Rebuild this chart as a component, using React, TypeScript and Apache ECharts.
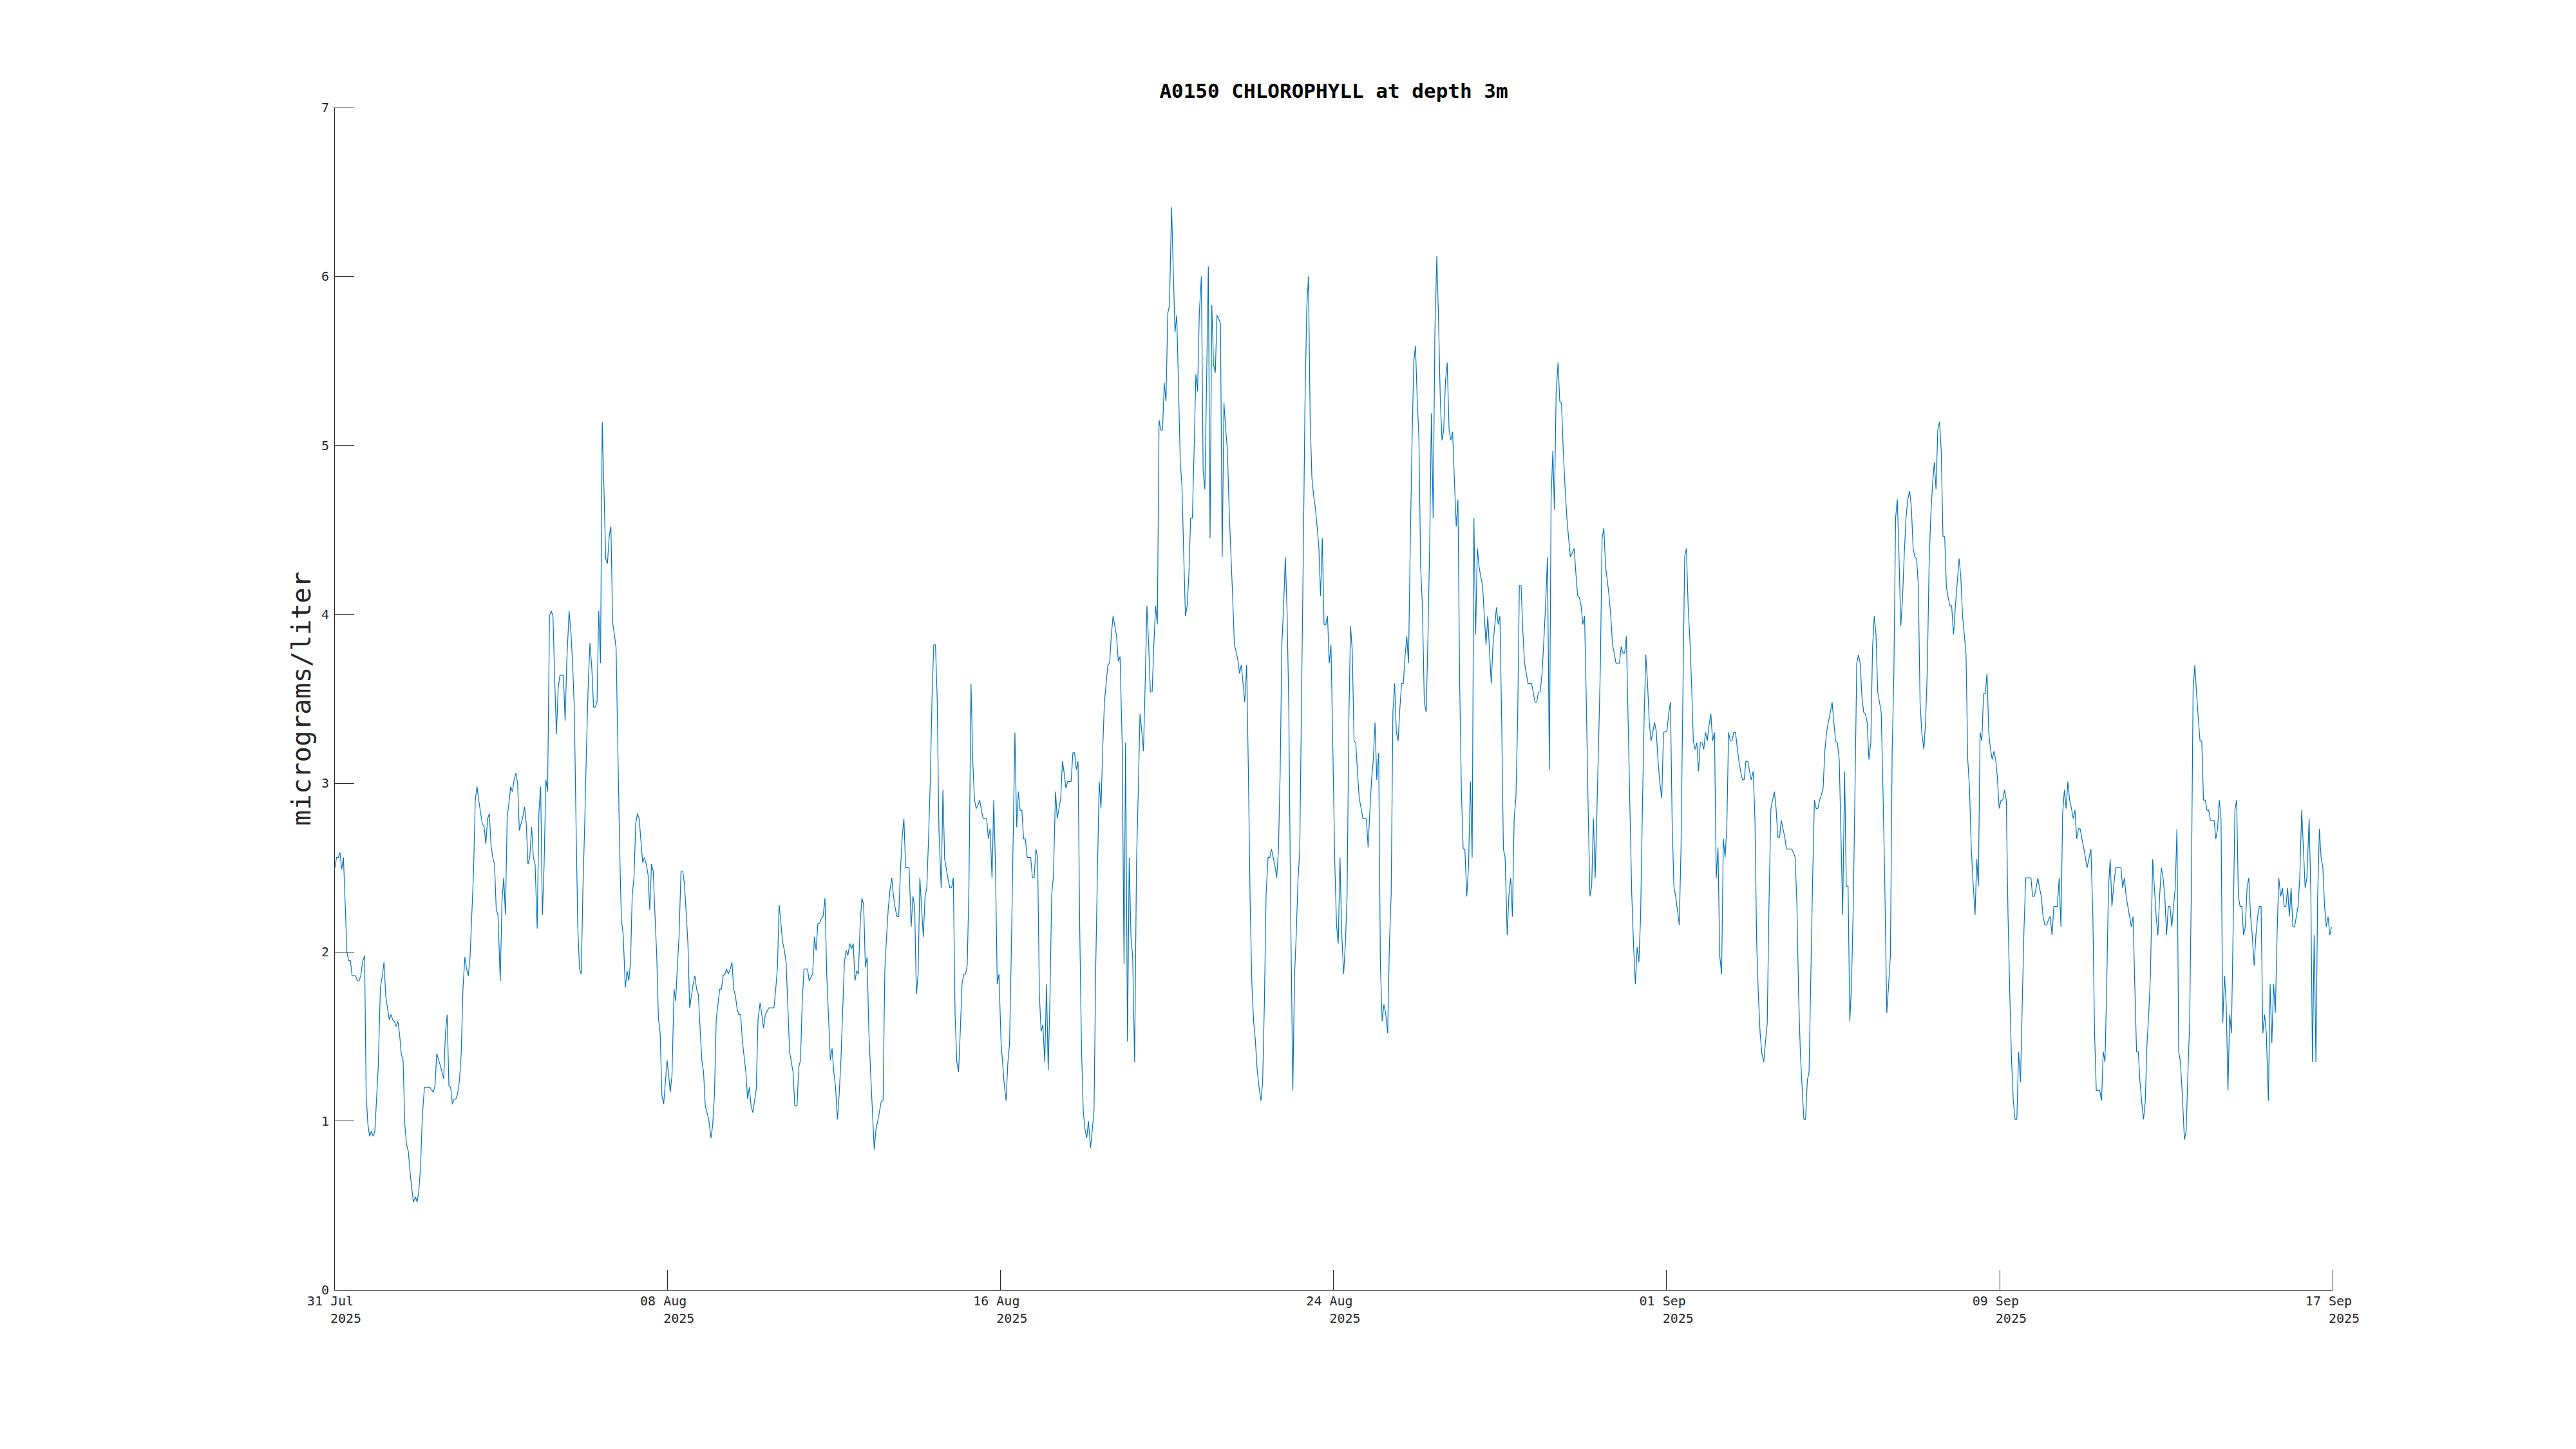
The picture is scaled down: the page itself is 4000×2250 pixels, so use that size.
import React, { useEffect, useRef } from "react";
import * as echarts from "echarts";

// Title / axis texts
const TITLE = "A0150 CHLOROPHYLL at depth 3m";
const Y_NAME = "micrograms/liter";
// x values are hours counted from 31 Jul 2025 00:00
const TICK_DAYS = ["31 Jul", "08 Aug", "16 Aug", "24 Aug", "01 Sep", "09 Sep", "17 Sep"];
const TICK_YEAR = "2025";
const TICK_STEP_HOURS = 192;
const END_HOURS = 1152;
const Y_MIN = 0;
const Y_MAX = 7;
const Y_STEP = 1;

// [hours since 31 Jul 00:00, chlorophyll µg/l]
const week1 = [
  [0.25, 2.49], [1.3, 2.56], [2.3, 2.56], [3.3, 2.59], [4.3, 2.49], [5.3, 2.56], [6.3, 2.29], [7.3, 2.0],
  [8.3, 1.95], [9.3, 1.95], [10.3, 1.86], [12.3, 1.86], [13.3, 1.83], [14.3, 1.83], [15.3, 1.86], [16.3, 1.94],
  [17.5, 1.98], [18.4, 1.16], [19.4, 0.98], [20.4, 0.91], [21.4, 0.94], [22.4, 0.91], [23.4, 0.94], [24.4, 1.13],
  [25.4, 1.33], [26.6, 1.79], [27.7, 1.86], [28.7, 1.94], [29.7, 1.74], [30.7, 1.67], [31.7, 1.6], [32.7, 1.63],
  [33.7, 1.6], [34.7, 1.59], [35.7, 1.56], [36.7, 1.59], [37.7, 1.51], [38.7, 1.39], [39.7, 1.36], [40.7, 0.98],
  [41.7, 0.86], [42.7, 0.82], [43.7, 0.7], [44.7, 0.6], [45.7, 0.52], [46.8, 0.55], [47.8, 0.52], [48.8, 0.59],
  [49.8, 0.74], [50.8, 1.03], [52.0, 1.2], [55.1, 1.2], [57.1, 1.17], [58.1, 1.21], [59.1, 1.4], [61.1, 1.33],
  [63.1, 1.25], [64.1, 1.52], [65.1, 1.63], [66.1, 1.21], [67.1, 1.2], [68.1, 1.1], [69.1, 1.13], [70.1, 1.13],
  [71.1, 1.16], [72.2, 1.24], [73.2, 1.4], [74.2, 1.78], [75.3, 1.97], [76.3, 1.9], [77.3, 1.86], [78.3, 1.97],
  [79.3, 2.22], [80.3, 2.47], [81.3, 2.9], [82.3, 2.98], [83.3, 2.9], [84.3, 2.83], [85.4, 2.76], [86.4, 2.74],
  [87.4, 2.64], [88.4, 2.79], [89.4, 2.82], [90.4, 2.63], [91.4, 2.56], [92.4, 2.52], [93.4, 2.25], [94.4, 2.22],
  [95.7, 1.83], [96.7, 2.3], [97.7, 2.44], [98.7, 2.22], [99.7, 2.8], [100.7, 2.88], [101.7, 2.98], [102.7, 2.95],
  [103.7, 3.02], [104.7, 3.06], [105.7, 3.0], [106.7, 2.72], [107.7, 2.76], [108.7, 2.8], [109.7, 2.86], [110.7, 2.76],
  [111.7, 2.52], [112.7, 2.56], [113.8, 2.74], [114.8, 2.56], [115.8, 2.52], [117.0, 2.14], [118.0, 2.83], [119.0, 2.98],
  [120.0, 2.22], [121.0, 2.52], [122.0, 3.02], [123.0, 2.95], [124.1, 3.99], [125.1, 4.02], [126.1, 3.99], [127.1, 3.61],
  [128.1, 3.29], [129.1, 3.56], [130.1, 3.64], [132.1, 3.64], [133.1, 3.37], [134.1, 3.73], [135.4, 4.02], [136.4, 3.9],
  [137.4, 3.71], [138.4, 3.44], [139.4, 2.76], [140.4, 2.15], [141.4, 1.9], [142.4, 1.87], [143.4, 2.39], [144.4, 2.76],
  [145.4, 3.2], [146.4, 3.58], [147.4, 3.83], [148.5, 3.68], [149.5, 3.45], [150.5, 3.45], [151.5, 3.48], [152.5, 4.02],
  [153.5, 3.71], [154.5, 5.14], [155.5, 4.73], [156.5, 4.33], [157.5, 4.3], [158.5, 4.46], [159.5, 4.52], [160.5, 3.95],
  [161.5, 3.88], [162.5, 3.8], [163.5, 3.2], [164.5, 2.63], [165.5, 2.2], [166.6, 2.1], [167.8, 1.79], [168.8, 1.89],
  [169.8, 1.83], [170.8, 1.94], [171.8, 2.34], [172.8, 2.44], [173.8, 2.76], [174.8, 2.82], [175.8, 2.79], [176.8, 2.66],
  [177.8, 2.53], [178.8, 2.56], [179.9, 2.52], [180.9, 2.46], [181.9, 2.25], [182.9, 2.52], [183.9, 2.48], [184.9, 2.22],
  [185.9, 1.98], [186.9, 1.61], [187.9, 1.52], [188.9, 1.15], [189.9, 1.1], [190.9, 1.23], [191.9, 1.36],
];

const week2 = [
  [192.9, 1.26], [193.7, 1.17], [194.7, 1.27], [195.9, 1.78], [196.8, 1.71], [197.8, 1.91], [198.8, 2.1], [199.9, 2.48],
  [200.9, 2.48], [201.9, 2.4], [202.9, 2.23], [203.9, 2.05], [204.9, 1.67], [205.9, 1.74], [206.9, 1.81], [207.9, 1.86],
  [208.9, 1.78], [209.9, 1.75], [210.9, 1.55], [211.9, 1.36], [212.9, 1.29], [213.9, 1.09], [214.9, 1.05], [215.9, 1.01],
  [217.2, 0.9], [218.2, 0.98], [219.2, 1.16], [220.2, 1.6], [221.2, 1.69], [222.2, 1.78], [223.2, 1.78], [224.2, 1.86],
  [225.2, 1.87], [226.2, 1.9], [227.2, 1.87], [228.3, 1.9], [229.3, 1.94], [230.3, 1.78], [231.3, 1.74], [232.3, 1.66],
  [233.3, 1.63], [234.3, 1.63], [235.3, 1.47], [236.3, 1.38], [237.3, 1.29], [238.3, 1.13], [239.3, 1.2], [240.3, 1.09],
  [241.3, 1.05], [242.3, 1.12], [243.3, 1.19], [244.3, 1.6], [245.5, 1.7], [246.5, 1.63], [247.5, 1.55], [248.5, 1.63],
  [249.5, 1.65], [250.5, 1.67], [253.5, 1.67], [254.5, 1.78], [255.5, 1.91], [256.5, 2.28], [257.5, 2.17], [258.5, 2.06],
  [259.5, 2.01], [260.5, 1.94], [261.5, 1.68], [262.5, 1.41], [263.5, 1.35], [264.5, 1.29], [265.5, 1.09], [266.8, 1.09],
  [267.8, 1.32], [268.8, 1.36], [269.8, 1.71], [270.8, 1.9], [272.8, 1.9], [273.8, 1.83], [274.8, 1.85], [275.8, 1.87],
  [276.8, 2.09], [277.8, 2.01], [278.8, 2.17], [279.8, 2.17], [280.8, 2.2], [281.8, 2.21], [282.9, 2.32], [283.9, 1.87],
  [284.9, 1.63], [286.0, 1.36], [287.0, 1.43], [288.0, 1.29], [289.0, 1.2], [290.1, 1.01], [291.1, 1.16], [292.1, 1.36],
  [293.1, 1.65], [294.1, 1.94], [295.1, 2.01], [296.1, 1.98], [297.2, 2.05], [298.2, 2.02], [299.2, 2.05], [300.2, 1.83],
  [301.2, 1.89], [302.2, 1.87], [303.2, 2.17], [304.2, 2.32], [305.2, 2.28], [306.2, 1.91], [307.2, 1.97], [308.2, 1.53],
  [309.2, 1.29], [310.2, 1.07], [311.3, 0.83], [312.3, 0.95], [313.3, 1.0], [314.4, 1.06], [315.4, 1.12], [316.4, 1.12],
  [317.4, 1.89], [318.4, 2.09], [319.4, 2.26], [320.4, 2.37], [321.4, 2.44], [322.4, 2.33], [323.4, 2.26], [324.4, 2.21],
  [325.4, 2.21], [326.4, 2.48], [327.4, 2.68], [328.4, 2.79], [329.4, 2.5], [331.4, 2.5], [332.6, 2.15], [333.6, 2.33],
  [334.6, 2.27], [335.6, 1.75], [336.6, 1.87], [337.6, 2.44], [338.6, 2.26], [339.6, 2.09], [340.6, 2.33], [341.6, 2.38],
  [342.6, 2.67], [343.6, 3.01], [344.6, 3.5], [345.6, 3.82], [346.6, 3.82], [347.6, 3.5], [348.6, 2.72], [349.9, 2.38],
  [350.9, 2.96], [351.9, 2.55], [352.9, 2.49], [353.9, 2.43], [354.9, 2.38], [355.9, 2.38], [356.9, 2.44], [357.9, 1.63],
  [358.9, 1.35], [359.9, 1.29], [360.9, 1.53], [361.9, 1.81], [362.9, 1.87], [363.9, 1.87], [364.9, 1.92], [365.9, 2.39],
  [367.1, 3.59], [368.1, 3.13], [369.1, 2.9], [370.1, 2.85], [371.1, 2.87], [372.1, 2.9], [373.1, 2.84], [374.1, 2.79],
  [376.1, 2.79], [377.1, 2.67], [378.1, 2.73], [379.2, 2.44], [380.2, 2.9], [381.2, 2.5], [382.2, 1.81], [383.2, 1.87],
  [384.4, 1.47], [385.4, 1.33],
];

const week3 = [
  [386.3, 1.21], [387.3, 1.12], [388.3, 1.34], [389.3, 1.46], [390.3, 1.99], [391.3, 2.62], [392.4, 3.3], [393.4, 2.74],
  [394.4, 2.95], [395.4, 2.84], [396.4, 2.84], [397.4, 2.67], [398.4, 2.67], [399.5, 2.56], [401.5, 2.56], [402.5, 2.44],
  [403.5, 2.44], [404.5, 2.61], [405.5, 2.56], [406.5, 1.75], [407.5, 1.53], [408.5, 1.57], [409.6, 1.35], [410.6, 1.81],
  [411.6, 1.3], [412.6, 1.73], [413.6, 2.34], [414.6, 2.45], [415.8, 2.95], [416.8, 2.79], [417.8, 2.85], [418.8, 2.91],
  [419.8, 3.13], [420.8, 3.06], [421.8, 2.97], [422.8, 3.01], [424.8, 3.01], [425.8, 3.18], [426.8, 3.18], [427.8, 3.08],
  [428.8, 3.13], [429.8, 2.11], [430.8, 1.42], [431.8, 1.06], [432.8, 0.95], [433.8, 0.9], [434.8, 1.0], [436.0, 0.84],
  [437.0, 0.95], [438.0, 1.06], [439.0, 1.92], [440.0, 2.49], [441.0, 3.01], [442.0, 2.85], [443.0, 3.2], [444.0, 3.48],
  [445.0, 3.59], [446.0, 3.7], [447.0, 3.71], [448.0, 3.88], [449.0, 3.99], [450.0, 3.93], [451.0, 3.87], [452.0, 3.72],
  [453.0, 3.75], [454.2, 3.25], [455.3, 1.93], [456.2, 3.24], [457.3, 1.47], [458.3, 2.56], [459.3, 2.09], [460.3, 1.97],
  [461.4, 1.35], [462.5, 2.53], [463.5, 2.95], [464.5, 3.41], [465.5, 3.31], [466.5, 3.19], [467.5, 3.59], [468.5, 4.05],
  [469.5, 3.82], [470.5, 3.54], [471.5, 3.54], [472.5, 3.82], [473.5, 4.05], [474.5, 3.94], [475.5, 5.15], [476.5, 5.09],
  [477.5, 5.09], [478.5, 5.37], [479.5, 5.26], [480.5, 5.78], [481.5, 5.83], [482.7, 6.41], [483.7, 6.03], [484.7, 5.67],
  [485.7, 5.77], [486.7, 5.35], [487.7, 4.91], [488.7, 4.76], [489.7, 4.36], [490.7, 3.99], [491.7, 4.05], [492.7, 4.24],
  [493.7, 4.57], [494.7, 4.57], [495.7, 4.97], [496.7, 5.42], [497.7, 5.32], [498.7, 5.78], [499.9, 6.0], [500.9, 4.85],
  [501.9, 4.74], [502.9, 5.38], [503.9, 6.06], [504.9, 4.45], [505.9, 5.83], [506.9, 5.48], [507.9, 5.43], [508.9, 5.77],
  [509.9, 5.75], [510.9, 5.72], [511.9, 4.34], [512.9, 5.25], [513.9, 5.1], [514.9, 4.97], [515.9, 4.62], [516.9, 4.36],
  [517.9, 4.11], [518.9, 3.82], [519.9, 3.78], [520.9, 3.73], [521.9, 3.65], [522.9, 3.7], [523.9, 3.59], [524.9, 3.48],
  [526.0, 3.7], [527.0, 3.06], [528.0, 2.3], [529.0, 1.81], [530.0, 1.59], [531.0, 1.48], [532.0, 1.31], [533.0, 1.21],
  [534.2, 1.12], [535.2, 1.23], [536.2, 1.69], [537.2, 2.34], [538.3, 2.56], [539.3, 2.56], [540.3, 2.61], [541.3, 2.56],
  [542.3, 2.51], [543.3, 2.44], [544.3, 2.6], [545.3, 3.06], [546.3, 3.82], [547.3, 4.05], [548.3, 4.34], [549.3, 4.01],
  [550.3, 3.44], [551.3, 2.3], [552.6, 1.18], [553.6, 1.86], [554.6, 2.11], [555.6, 2.43], [556.6, 2.6], [557.6, 3.48],
  [558.6, 4.32], [559.6, 5.23], [560.6, 5.8], [561.6, 6.0], [562.6, 5.16], [563.6, 4.81], [564.6, 4.7], [565.6, 4.63],
  [566.6, 4.52], [567.6, 4.4], [568.6, 4.11], [569.6, 4.45], [570.6, 3.94], [571.6, 3.94], [572.6, 3.99], [573.6, 3.71],
  [574.6, 3.82],
];

const week4 = [
  [575.8, 3.14], [576.8, 2.53], [577.8, 2.16], [578.8, 2.05], [579.8, 2.56], [580.8, 2.11], [581.9, 1.87], [582.9, 2.05],
  [583.9, 2.34], [584.9, 3.37], [585.9, 3.93], [586.9, 3.78], [587.9, 3.25], [588.9, 3.24], [589.9, 3.06], [590.9, 2.91],
  [592.0, 2.85], [593.0, 2.79], [595.0, 2.79], [596.0, 2.62], [597.0, 2.83], [598.0, 3.02], [599.0, 3.14], [600.0, 3.36],
  [601.0, 3.02], [602.1, 3.18], [603.1, 1.92], [604.1, 1.59], [605.1, 1.69], [606.1, 1.64], [607.3, 1.52], [608.3, 2.05],
  [609.3, 2.34], [610.3, 3.42], [611.3, 3.59], [612.3, 3.3], [613.3, 3.25], [614.3, 3.44], [615.3, 3.59], [616.3, 3.59],
  [617.3, 3.75], [618.3, 3.87], [619.3, 3.71], [620.3, 4.41], [621.3, 5.0], [622.3, 5.49], [623.3, 5.59], [624.3, 5.28],
  [625.3, 5.04], [626.3, 4.28], [627.3, 4.05], [628.4, 3.48], [629.5, 3.42], [630.5, 3.86], [631.5, 4.41], [632.5, 5.19],
  [633.5, 4.57], [634.5, 5.67], [635.6, 6.12], [636.6, 5.75], [637.6, 5.28], [638.6, 5.03], [639.6, 5.09], [640.6, 5.38],
  [641.6, 5.49], [642.7, 5.09], [643.7, 5.03], [644.7, 5.08], [645.7, 4.81], [646.8, 4.52], [647.8, 4.68], [648.8, 3.59],
  [649.8, 2.95], [650.8, 2.61], [651.8, 2.61], [652.9, 2.33], [653.9, 2.51], [655.0, 3.01], [656.0, 2.56], [657.0, 4.57],
  [658.0, 3.88], [659.0, 4.39], [660.0, 4.28], [661.0, 4.22], [662.0, 4.17], [663.0, 3.99], [664.0, 3.82], [665.0, 3.99],
  [666.0, 3.78], [667.0, 3.59], [668.0, 3.82], [669.0, 3.93], [670.0, 4.04], [671.0, 3.94], [672.0, 3.99], [673.0, 3.37],
  [674.0, 2.61], [675.0, 2.56], [676.2, 2.1], [677.2, 2.34], [678.2, 2.44], [679.2, 2.21], [680.2, 2.79], [681.2, 2.91],
  [682.2, 3.37], [683.2, 4.17], [684.2, 4.17], [685.2, 3.9], [686.2, 3.71], [687.2, 3.65], [688.2, 3.59], [690.2, 3.59],
  [691.2, 3.54], [692.2, 3.48], [693.2, 3.48], [694.2, 3.54], [695.2, 3.54], [696.2, 3.64], [697.2, 3.82], [698.3, 4.05],
  [699.4, 4.34], [700.5, 3.08], [701.5, 4.68], [702.5, 4.97], [703.4, 4.62], [704.4, 5.31], [705.5, 5.49], [706.5, 5.26],
  [707.5, 5.25], [708.5, 4.97], [709.6, 4.74], [710.6, 4.57], [711.6, 4.45], [712.6, 4.34], [713.6, 4.36], [714.8, 4.39],
  [715.8, 4.24], [716.8, 4.11], [717.8, 4.1], [718.8, 4.05], [719.8, 3.94], [720.8, 3.99], [721.8, 3.48], [722.9, 2.83],
  [723.9, 2.33], [724.9, 2.39], [725.9, 2.79], [726.9, 2.44], [727.9, 2.83], [728.9, 3.25], [729.9, 3.69], [730.9, 4.45],
  [731.9, 4.51], [732.9, 4.28], [733.9, 4.2], [734.9, 4.11], [735.9, 3.99], [736.9, 3.82], [737.9, 3.77], [738.9, 3.71],
  [740.9, 3.71], [741.9, 3.81], [742.9, 3.77], [743.9, 3.77], [744.9, 3.87], [745.9, 3.37], [746.9, 2.87], [748.0, 2.34],
  [749.0, 2.05], [750.1, 1.81], [751.1, 2.03], [752.1, 1.94], [753.1, 2.21], [754.1, 2.83], [755.1, 3.37], [756.1, 3.76],
  [757.1, 3.59], [758.1, 3.36], [759.1, 3.25], [760.1, 3.3], [761.1, 3.36], [762.1, 3.31], [763.1, 3.14], [764.1, 3.01],
  [765.3, 2.91], [766.3, 3.3], [768.3, 3.31],
];

const week5 = [
  [769.4, 3.42], [770.3, 3.48], [771.3, 2.76], [772.3, 2.39], [773.3, 2.33], [774.3, 2.25], [775.4, 2.16], [776.4, 2.62],
  [777.5, 3.54], [778.5, 4.34], [779.5, 4.39], [780.5, 4.05], [781.5, 3.85], [782.5, 3.58], [783.5, 3.25], [784.5, 3.2],
  [785.5, 3.24], [786.5, 3.07], [787.5, 3.24], [788.5, 3.24], [789.5, 3.2], [790.5, 3.3], [791.5, 3.25], [792.5, 3.34],
  [793.6, 3.41], [794.6, 3.25], [795.7, 3.3], [796.7, 2.44], [797.7, 2.62], [798.7, 1.98], [799.8, 1.87], [800.8, 2.67],
  [801.8, 2.56], [802.8, 2.74], [803.8, 3.3], [804.8, 3.25], [805.8, 3.25], [806.8, 3.3], [807.8, 3.3], [808.8, 3.21],
  [809.8, 3.13], [810.8, 3.07], [811.8, 3.02], [812.8, 3.02], [813.8, 3.13], [814.9, 3.13], [815.9, 3.07], [816.9, 3.02],
  [818.0, 3.07], [819.0, 2.79], [820.0, 2.06], [821.0, 1.74], [822.0, 1.52], [823.0, 1.4], [824.1, 1.35], [825.1, 1.47],
  [826.1, 1.58], [827.1, 2.28], [828.2, 2.85], [829.2, 2.9], [830.2, 2.95], [831.2, 2.85], [832.2, 2.68], [833.2, 2.68],
  [834.2, 2.78], [835.2, 2.73], [836.2, 2.68], [837.2, 2.61], [840.2, 2.61], [841.2, 2.59], [842.2, 2.56], [843.2, 2.28],
  [844.2, 1.74], [845.2, 1.4], [846.2, 1.2], [847.2, 1.01], [848.2, 1.01], [849.2, 1.24], [850.2, 1.29], [851.2, 1.84],
  [852.3, 2.45], [853.3, 2.9], [854.3, 2.85], [855.3, 2.85], [856.3, 2.9], [857.3, 2.93], [858.3, 2.97], [859.3, 3.19],
  [860.3, 3.3], [861.3, 3.36], [862.3, 3.41], [863.5, 3.48], [864.5, 3.36], [865.5, 3.25], [866.5, 3.24], [867.6, 3.14],
  [868.6, 2.69], [869.6, 2.22], [870.7, 3.07], [871.7, 2.39], [872.7, 2.39], [873.7, 1.59], [874.7, 1.81], [875.7, 2.28],
  [876.7, 2.97], [877.7, 3.71], [878.7, 3.76], [879.7, 3.71], [880.7, 3.51], [881.7, 3.42], [882.7, 3.41], [883.7, 3.36],
  [884.7, 3.14], [885.8, 3.24], [886.8, 3.8], [887.8, 3.99], [888.8, 3.88], [889.8, 3.54], [890.8, 3.48], [891.8, 3.42],
  [892.8, 2.97], [893.8, 2.45], [895.0, 1.64], [896.1, 1.81], [897.1, 1.98], [898.1, 3.17], [899.1, 3.65], [900.1, 4.57],
  [901.1, 4.68], [902.1, 4.33], [903.1, 3.93], [904.1, 4.1], [905.1, 4.36], [906.1, 4.57], [907.1, 4.68], [908.2, 4.73],
  [909.2, 4.63], [910.2, 4.39], [911.2, 4.34], [912.2, 4.33], [913.2, 4.17], [914.2, 3.48], [915.2, 3.3], [916.4, 3.2],
  [917.4, 3.37], [918.4, 3.68], [919.4, 4.29], [920.4, 4.59], [921.4, 4.77], [922.4, 4.9], [923.4, 4.74], [924.4, 5.09],
  [925.4, 5.14], [926.4, 4.97], [927.4, 4.46], [928.4, 4.46], [929.4, 4.16], [930.4, 4.1], [931.4, 4.05], [932.4, 4.05],
  [933.5, 3.88], [934.5, 4.04], [935.5, 4.17], [936.7, 4.33], [937.7, 4.22], [938.7, 3.99], [939.7, 3.88], [940.7, 3.76],
  [941.7, 3.14], [942.7, 2.97], [943.7, 2.62], [944.7, 2.42], [945.9, 2.22], [946.9, 2.55], [947.8, 2.39], [948.8, 3.3],
  [949.8, 3.25], [950.8, 3.53], [951.8, 3.53], [952.8, 3.65], [953.8, 3.3], [954.8, 3.2], [955.8, 3.14], [956.8, 3.19],
  [957.8, 3.14], [958.8, 3.03], [959.8, 2.85],
];

const week6 = [
  [960.9, 2.9], [961.9, 2.9], [962.9, 2.96], [963.9, 2.9], [964.9, 2.22], [965.9, 1.76], [966.9, 1.37], [967.9, 1.13],
  [968.9, 1.01], [970.0, 1.01], [971.0, 1.41], [972.1, 1.23], [973.1, 1.69], [974.1, 2.13], [975.1, 2.44], [978.1, 2.44],
  [979.1, 2.33], [980.1, 2.33], [981.1, 2.38], [982.1, 2.44], [983.1, 2.38], [984.1, 2.33], [985.1, 2.21], [986.1, 2.16],
  [987.2, 2.16], [988.2, 2.19], [989.2, 2.21], [990.3, 2.1], [991.3, 2.27], [993.3, 2.27], [994.4, 2.44], [995.4, 2.15],
  [996.4, 2.82], [997.4, 2.96], [998.4, 2.85], [999.4, 3.01], [1000.4, 2.9], [1001.5, 2.85], [1002.5, 2.79], [1003.5, 2.84],
  [1004.5, 2.67], [1005.5, 2.73], [1006.5, 2.73], [1007.5, 2.67], [1008.5, 2.62], [1009.5, 2.56], [1010.5, 2.5], [1011.7, 2.56],
  [1012.7, 2.61], [1013.8, 2.22], [1014.8, 1.52], [1015.8, 1.18], [1017.8, 1.18], [1018.8, 1.12], [1019.8, 1.41], [1020.8, 1.35],
  [1021.8, 1.8], [1022.8, 2.38], [1023.8, 2.55], [1024.8, 2.27], [1025.8, 2.39], [1027.0, 2.5], [1030.0, 2.5], [1031.0, 2.38],
  [1032.0, 2.44], [1033.0, 2.33], [1034.0, 2.27], [1035.0, 2.21], [1036.0, 2.15], [1037.0, 2.21], [1038.0, 1.8], [1039.0, 1.41],
  [1040.0, 1.41], [1041.0, 1.23], [1042.0, 1.11], [1043.0, 1.01], [1044.0, 1.11], [1045.0, 1.45], [1046.0, 1.63], [1047.0, 1.86],
  [1048.3, 2.55], [1049.3, 2.38], [1050.3, 2.21], [1051.3, 2.1], [1052.3, 2.33], [1053.3, 2.5], [1054.3, 2.44], [1055.3, 2.33],
  [1056.3, 2.1], [1057.3, 2.27], [1058.3, 2.27], [1059.3, 2.15], [1060.3, 2.27], [1061.3, 2.38], [1062.3, 2.73], [1063.3, 1.41],
  [1064.3, 1.35], [1065.3, 1.17], [1066.6, 0.89], [1067.6, 0.94], [1068.6, 1.28], [1069.6, 1.58], [1070.6, 2.39], [1071.6, 3.55],
  [1072.6, 3.7], [1073.6, 3.53], [1074.6, 3.38], [1075.6, 3.25], [1076.6, 3.25], [1077.6, 2.9], [1078.6, 2.9], [1079.6, 2.84],
  [1080.6, 2.84], [1081.6, 2.78], [1083.7, 2.78], [1084.7, 2.67], [1085.7, 2.73], [1086.7, 2.9], [1087.7, 2.79], [1088.7, 1.58],
  [1089.7, 1.86], [1090.7, 1.69], [1091.7, 1.18], [1092.7, 1.63], [1093.7, 1.52], [1094.7, 2.15], [1095.7, 2.84], [1096.7, 2.9],
  [1097.7, 2.33], [1098.7, 2.27], [1099.7, 2.27], [1100.7, 2.1], [1101.7, 2.15], [1102.7, 2.38], [1103.7, 2.44], [1104.7, 2.22],
  [1105.7, 2.1], [1106.8, 1.92], [1107.8, 2.1], [1108.8, 2.21], [1109.8, 2.27], [1110.8, 2.27], [1111.8, 1.52], [1112.8, 1.63],
  [1113.8, 1.52], [1115.0, 1.12], [1116.0, 1.81], [1117.0, 1.46], [1118.0, 1.81], [1119.0, 1.64], [1120.0, 2.1], [1121.0, 2.44],
  [1122.1, 2.33], [1123.1, 2.38], [1124.1, 2.27], [1125.1, 2.27], [1126.1, 2.38], [1127.1, 2.21], [1128.1, 2.38], [1129.1, 2.15],
  [1130.1, 2.15], [1131.1, 2.21], [1132.1, 2.27], [1133.1, 2.44], [1134.2, 2.84], [1135.2, 2.61], [1136.2, 2.38], [1137.2, 2.44],
  [1138.5, 2.79], [1139.5, 2.33], [1140.4, 1.35], [1141.4, 2.1], [1142.4, 1.35], [1143.4, 2.33], [1144.4, 2.73], [1145.4, 2.56],
  [1146.4, 2.5], [1147.4, 2.27], [1148.4, 2.15], [1149.4, 2.21], [1150.4, 2.1], [1151.4, 2.15],
];

const AXIS_COLOR = "#262626";
const LINE_COLOR = "#0072BD";
const FONT = "DejaVu Sans Mono";

export default function App() {
  const ref = useRef<HTMLDivElement>(null);

  useEffect(() => {
    if (!ref.current) return;
    const chart = echarts.init(ref.current, undefined, { renderer: "svg" });
    const data = [...week1, ...week2, ...week3, ...week4, ...week5, ...week6];

    chart.setOption({
      animation: false,
      backgroundColor: "#ffffff",
      title: {
        text: TITLE,
        left: 2071,
        top: 125,
        textAlign: "center",
        padding: 0,
        textStyle: {
          fontFamily: FONT,
          fontWeight: "bold",
          fontSize: 31,
          color: "#000000",
        },
      },
      grid: { left: 519, right: 378, top: 167, bottom: 247, containLabel: false },
      xAxis: {
        type: "value",
        min: 0,
        max: END_HOURS,
        interval: TICK_STEP_HOURS,
        axisLine: { show: true, lineStyle: { color: AXIS_COLOR, width: 1 } },
        axisTick: { show: true, inside: true, length: 31, lineStyle: { color: AXIS_COLOR, width: 1 } },
        splitLine: { show: false },
        axisLabel: {
          show: true,
          showMinLabel: true,
          showMaxLabel: true,
          margin: 3,
          fontFamily: FONT,
          fontSize: 20,
          lineHeight: 27.5,
          color: AXIS_COLOR,
          align: "center",
          formatter: (val: number) => {
            const i = Math.round(val / TICK_STEP_HOURS);
            const d = TICK_DAYS[i] ?? "";
            return d + "\u00a0\n\u00a0\u00a0\u00a0" + TICK_YEAR;
          },
        },
      },
      yAxis: {
        type: "value",
        min: Y_MIN,
        max: Y_MAX,
        interval: Y_STEP,
        name: Y_NAME,
        nameLocation: "middle",
        nameGap: 27,
        nameTextStyle: { fontFamily: FONT, fontSize: 41, color: AXIS_COLOR },
        axisLine: { show: true, lineStyle: { color: AXIS_COLOR, width: 1 } },
        axisTick: { show: true, inside: true, length: 31, lineStyle: { color: AXIS_COLOR, width: 1 } },
        splitLine: { show: false },
        axisLabel: {
          show: true,
          margin: 8,
          fontFamily: FONT,
          fontSize: 20,
          color: AXIS_COLOR,
        },
      },
      series: [
        {
          type: "line",
          data,
          showSymbol: false,
          symbol: "none",
          silent: true,
          lineStyle: { color: LINE_COLOR, width: 1.2 },
        },
      ],
    });

    return () => {
      chart.dispose();
    };
  }, []);

  return (
    <div
      ref={ref}
      style={{ position: "fixed", left: 0, top: 0, width: "4000px", height: "2250px", background: "#fff" }}
    />
  );
}
